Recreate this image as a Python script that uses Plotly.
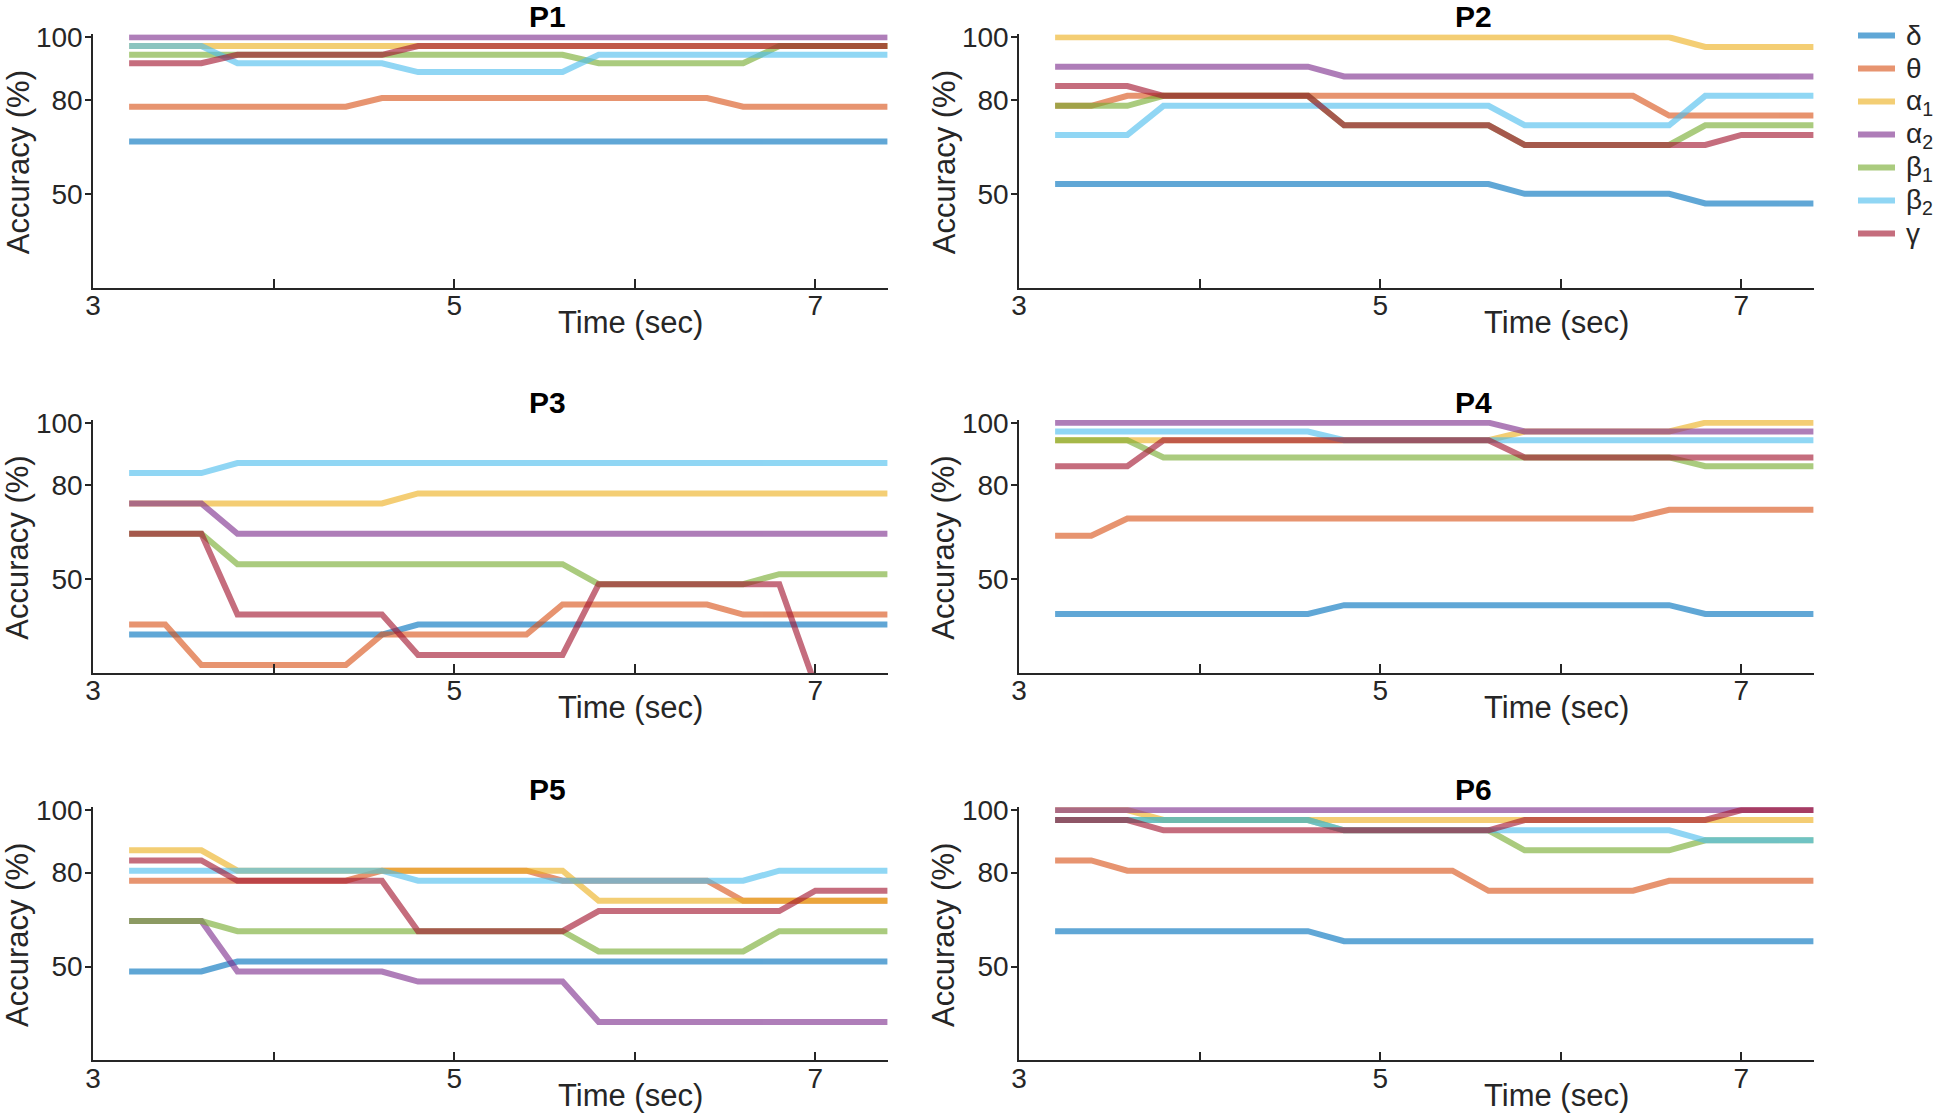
import plotly.graph_objects as go

W, H = 1946, 1114

time_sec = [3.2, 3.4, 3.6, 3.8, 4.0, 4.2, 4.4, 4.6, 4.8, 5.0, 5.2,
            5.4, 5.6, 5.8, 6.0, 6.2, 6.4, 6.6, 6.8, 7.0, 7.2, 7.4]

band_names = ["δ", "θ", "α<sub>1</sub>", "α<sub>2</sub>", "β<sub>1</sub>", "β<sub>2</sub>", "γ"]
band_colors = ["#0072BD", "#D95319", "#EDB120", "#7E2F8E", "#77AC30", "#4DBEEE", "#A2142F"]
panel_titles = ["P1", "P2", "P3", "P4", "P5", "P6"]
x_tick_vals = [3, 5, 7]
x_tick_text = ["3", "5", "7"]
y_tick_vals = [50, 80, 100]
y_tick_text = ["50", "80", "100"]

# ---- P1 ----
p1_delta = [66.7, 66.7, 66.7, 66.7, 66.7, 66.7, 66.7, 66.7, 66.7, 66.7, 66.7, 66.7, 66.7, 66.7, 66.7, 66.7, 66.7, 66.7, 66.7, 66.7, 66.7, 66.7]
p1_theta = [77.8, 77.8, 77.8, 77.8, 77.8, 77.8, 77.8, 80.6, 80.6, 80.6, 80.6, 80.6, 80.6, 80.6, 80.6, 80.6, 80.6, 77.8, 77.8, 77.8, 77.8, 77.8]
p1_alpha1 = [97.2, 97.2, 97.2, 97.2, 97.2, 97.2, 97.2, 97.2, 97.2, 97.2, 97.2, 97.2, 97.2, 97.2, 97.2, 97.2, 97.2, 97.2, 97.2, 97.2, 97.2, 97.2]
p1_alpha2 = [100, 100, 100, 100, 100, 100, 100, 100, 100, 100, 100, 100, 100, 100, 100, 100, 100, 100, 100, 100, 100, 100]
p1_beta1 = [94.4, 94.4, 94.4, 94.4, 94.4, 94.4, 94.4, 94.4, 94.4, 94.4, 94.4, 94.4, 94.4, 91.7, 91.7, 91.7, 91.7, 91.7, 97.2, 97.2, 97.2, 97.2]
p1_beta2 = [97.2, 97.2, 97.2, 91.7, 91.7, 91.7, 91.7, 91.7, 88.9, 88.9, 88.9, 88.9, 88.9, 94.4, 94.4, 94.4, 94.4, 94.4, 94.4, 94.4, 94.4, 94.4]
p1_gamma = [91.7, 91.7, 91.7, 94.4, 94.4, 94.4, 94.4, 94.4, 97.2, 97.2, 97.2, 97.2, 97.2, 97.2, 97.2, 97.2, 97.2, 97.2, 97.2, 97.2, 97.2, 97.2]

# ---- P2 ----
p2_delta = [53.1, 53.1, 53.1, 53.1, 53.1, 53.1, 53.1, 53.1, 53.1, 53.1, 53.1, 53.1, 53.1, 50.0, 50.0, 50.0, 50.0, 50.0, 46.9, 46.9, 46.9, 46.9]
p2_theta = [78.1, 78.1, 81.3, 81.3, 81.3, 81.3, 81.3, 81.3, 81.3, 81.3, 81.3, 81.3, 81.3, 81.3, 81.3, 81.3, 81.3, 75.0, 75.0, 75.0, 75.0, 75.0]
p2_alpha1 = [100, 100, 100, 100, 100, 100, 100, 100, 100, 100, 100, 100, 100, 100, 100, 100, 100, 100, 96.9, 96.9, 96.9, 96.9]
p2_alpha2 = [90.6, 90.6, 90.6, 90.6, 90.6, 90.6, 90.6, 90.6, 87.5, 87.5, 87.5, 87.5, 87.5, 87.5, 87.5, 87.5, 87.5, 87.5, 87.5, 87.5, 87.5, 87.5]
p2_beta1 = [78.1, 78.1, 78.1, 81.3, 81.3, 81.3, 81.3, 81.3, 71.9, 71.9, 71.9, 71.9, 71.9, 65.6, 65.6, 65.6, 65.6, 65.6, 71.9, 71.9, 71.9, 71.9]
p2_beta2 = [68.8, 68.8, 68.8, 78.1, 78.1, 78.1, 78.1, 78.1, 78.1, 78.1, 78.1, 78.1, 78.1, 71.9, 71.9, 71.9, 71.9, 71.9, 81.3, 81.3, 81.3, 81.3]
p2_gamma = [84.4, 84.4, 84.4, 81.3, 81.3, 81.3, 81.3, 81.3, 71.9, 71.9, 71.9, 71.9, 71.9, 65.6, 65.6, 65.6, 65.6, 65.6, 65.6, 68.8, 68.8, 68.8]

# ---- P3 ----
p3_delta = [32.3, 32.3, 32.3, 32.3, 32.3, 32.3, 32.3, 32.3, 35.5, 35.5, 35.5, 35.5, 35.5, 35.5, 35.5, 35.5, 35.5, 35.5, 35.5, 35.5, 35.5, 35.5]
p3_theta = [35.5, 35.5, 22.6, 22.6, 22.6, 22.6, 22.6, 32.3, 32.3, 32.3, 32.3, 32.3, 41.9, 41.9, 41.9, 41.9, 41.9, 38.7, 38.7, 38.7, 38.7, 38.7]
p3_alpha1 = [74.2, 74.2, 74.2, 74.2, 74.2, 74.2, 74.2, 74.2, 77.4, 77.4, 77.4, 77.4, 77.4, 77.4, 77.4, 77.4, 77.4, 77.4, 77.4, 77.4, 77.4, 77.4]
p3_alpha2 = [74.2, 74.2, 74.2, 64.5, 64.5, 64.5, 64.5, 64.5, 64.5, 64.5, 64.5, 64.5, 64.5, 64.5, 64.5, 64.5, 64.5, 64.5, 64.5, 64.5, 64.5, 64.5]
p3_beta1 = [64.5, 64.5, 64.5, 54.8, 54.8, 54.8, 54.8, 54.8, 54.8, 54.8, 54.8, 54.8, 54.8, 48.4, 48.4, 48.4, 48.4, 48.4, 51.6, 51.6, 51.6, 51.6]
p3_beta2 = [83.9, 83.9, 83.9, 87.1, 87.1, 87.1, 87.1, 87.1, 87.1, 87.1, 87.1, 87.1, 87.1, 87.1, 87.1, 87.1, 87.1, 87.1, 87.1, 87.1, 87.1, 87.1]
p3_gamma = [64.5, 64.5, 64.5, 38.7, 38.7, 38.7, 38.7, 38.7, 25.8, 25.8, 25.8, 25.8, 25.8, 48.4, 48.4, 48.4, 48.4, 48.4, 48.4, 16.1, 16.1, 16.1]

# ---- P4 ----
p4_delta = [38.9, 38.9, 38.9, 38.9, 38.9, 38.9, 38.9, 38.9, 41.7, 41.7, 41.7, 41.7, 41.7, 41.7, 41.7, 41.7, 41.7, 41.7, 38.9, 38.9, 38.9, 38.9]
p4_theta = [63.9, 63.9, 69.4, 69.4, 69.4, 69.4, 69.4, 69.4, 69.4, 69.4, 69.4, 69.4, 69.4, 69.4, 69.4, 69.4, 69.4, 72.2, 72.2, 72.2, 72.2, 72.2]
p4_alpha1 = [94.4, 94.4, 94.4, 94.4, 94.4, 94.4, 94.4, 94.4, 94.4, 94.4, 94.4, 94.4, 94.4, 97.2, 97.2, 97.2, 97.2, 97.2, 100, 100, 100, 100]
p4_alpha2 = [100, 100, 100, 100, 100, 100, 100, 100, 100, 100, 100, 100, 100, 97.2, 97.2, 97.2, 97.2, 97.2, 97.2, 97.2, 97.2, 97.2]
p4_beta1 = [94.4, 94.4, 94.4, 88.9, 88.9, 88.9, 88.9, 88.9, 88.9, 88.9, 88.9, 88.9, 88.9, 88.9, 88.9, 88.9, 88.9, 88.9, 86.1, 86.1, 86.1, 86.1]
p4_beta2 = [97.2, 97.2, 97.2, 97.2, 97.2, 97.2, 97.2, 97.2, 94.4, 94.4, 94.4, 94.4, 94.4, 94.4, 94.4, 94.4, 94.4, 94.4, 94.4, 94.4, 94.4, 94.4]
p4_gamma = [86.1, 86.1, 86.1, 94.4, 94.4, 94.4, 94.4, 94.4, 94.4, 94.4, 94.4, 94.4, 94.4, 88.9, 88.9, 88.9, 88.9, 88.9, 88.9, 88.9, 88.9, 88.9]

# ---- P5 ----
p5_delta = [48.4, 48.4, 48.4, 51.6, 51.6, 51.6, 51.6, 51.6, 51.6, 51.6, 51.6, 51.6, 51.6, 51.6, 51.6, 51.6, 51.6, 51.6, 51.6, 51.6, 51.6, 51.6]
p5_theta = [77.4, 77.4, 77.4, 77.4, 77.4, 77.4, 77.4, 80.6, 80.6, 80.6, 80.6, 80.6, 77.4, 77.4, 77.4, 77.4, 77.4, 71.0, 71.0, 71.0, 71.0, 71.0]
p5_alpha1 = [87.1, 87.1, 87.1, 80.6, 80.6, 80.6, 80.6, 80.6, 80.6, 80.6, 80.6, 80.6, 80.6, 71.0, 71.0, 71.0, 71.0, 71.0, 71.0, 71.0, 71.0, 71.0]
p5_alpha2 = [64.5, 64.5, 64.5, 48.4, 48.4, 48.4, 48.4, 48.4, 45.2, 45.2, 45.2, 45.2, 45.2, 32.3, 32.3, 32.3, 32.3, 32.3, 32.3, 32.3, 32.3, 32.3]
p5_beta1 = [64.5, 64.5, 64.5, 61.3, 61.3, 61.3, 61.3, 61.3, 61.3, 61.3, 61.3, 61.3, 61.3, 54.8, 54.8, 54.8, 54.8, 54.8, 61.3, 61.3, 61.3, 61.3]
p5_beta2 = [80.6, 80.6, 80.6, 80.6, 80.6, 80.6, 80.6, 80.6, 77.4, 77.4, 77.4, 77.4, 77.4, 77.4, 77.4, 77.4, 77.4, 77.4, 80.6, 80.6, 80.6, 80.6]
p5_gamma = [83.9, 83.9, 83.9, 77.4, 77.4, 77.4, 77.4, 77.4, 61.3, 61.3, 61.3, 61.3, 61.3, 67.7, 67.7, 67.7, 67.7, 67.7, 67.7, 74.2, 74.2, 74.2]

# ---- P6 ----
p6_delta = [61.3, 61.3, 61.3, 61.3, 61.3, 61.3, 61.3, 61.3, 58.1, 58.1, 58.1, 58.1, 58.1, 58.1, 58.1, 58.1, 58.1, 58.1, 58.1, 58.1, 58.1, 58.1]
p6_theta = [83.9, 83.9, 80.6, 80.6, 80.6, 80.6, 80.6, 80.6, 80.6, 80.6, 80.6, 80.6, 74.2, 74.2, 74.2, 74.2, 74.2, 77.4, 77.4, 77.4, 77.4, 77.4]
p6_alpha1 = [100, 100, 100, 96.8, 96.8, 96.8, 96.8, 96.8, 96.8, 96.8, 96.8, 96.8, 96.8, 96.8, 96.8, 96.8, 96.8, 96.8, 96.8, 96.8, 96.8, 96.8]
p6_alpha2 = [100, 100, 100, 100, 100, 100, 100, 100, 100, 100, 100, 100, 100, 100, 100, 100, 100, 100, 100, 100, 100, 100]
p6_beta1 = [96.8, 96.8, 96.8, 96.8, 96.8, 96.8, 96.8, 96.8, 93.5, 93.5, 93.5, 93.5, 93.5, 87.1, 87.1, 87.1, 87.1, 87.1, 90.3, 90.3, 90.3, 90.3]
p6_beta2 = [96.8, 96.8, 96.8, 96.8, 96.8, 96.8, 96.8, 96.8, 93.5, 93.5, 93.5, 93.5, 93.5, 93.5, 93.5, 93.5, 93.5, 93.5, 90.3, 90.3, 90.3, 90.3]
p6_gamma = [96.8, 96.8, 96.8, 93.5, 93.5, 93.5, 93.5, 93.5, 93.5, 93.5, 93.5, 93.5, 93.5, 96.8, 96.8, 96.8, 96.8, 96.8, 96.8, 100, 100, 100]

panels = [
    [p1_delta, p1_theta, p1_alpha1, p1_alpha2, p1_beta1, p1_beta2, p1_gamma],
    [p2_delta, p2_theta, p2_alpha1, p2_alpha2, p2_beta1, p2_beta2, p2_gamma],
    [p3_delta, p3_theta, p3_alpha1, p3_alpha2, p3_beta1, p3_beta2, p3_gamma],
    [p4_delta, p4_theta, p4_alpha1, p4_alpha2, p4_beta1, p4_beta2, p4_gamma],
    [p5_delta, p5_theta, p5_alpha1, p5_alpha2, p5_beta1, p5_beta2, p5_gamma],
    [p6_delta, p6_theta, p6_alpha1, p6_alpha2, p6_beta1, p6_beta2, p6_gamma],
]

# ---- layout geometry (pixels) ----
col_left = [93, 1019]            # pixel of x = 3
px_per_x = 180.6
row_y100 = [37.3, 422.7, 810.0]  # pixel of y = 100
px_per_y = 3.13
X_MIN, X_MAX = 3.0, 7.4
Y_MIN, Y_MAX = 20.0, 100.9

AX_COLOR = "#262626"
FONT = "Liberation Sans, Arial, Helvetica, sans-serif"
TICK_SIZE = 28
LABEL_SIZE = 31
TITLE_SIZE = 30
LEGEND_SIZE = 28
LINE_W = 6
ALPHA = 0.62

fig = go.Figure()
layout = dict(
    width=W, height=H,
    margin=dict(l=0, r=0, t=0, b=0, autoexpand=False),
    paper_bgcolor="white", plot_bgcolor="white",
    font=dict(family=FONT, color=AX_COLOR),
    showlegend=False,
)
annotations = []
shapes = []

for p in range(6):
    r, c = divmod(p, 2)
    i = p + 1
    xl = col_left[c]
    xr = xl + (X_MAX - X_MIN) * px_per_x
    yb = row_y100[r] + (100 - Y_MIN) * px_per_y
    yt = row_y100[r] - (Y_MAX - 100) * px_per_y
    xa = "xaxis" if i == 1 else f"xaxis{i}"
    ya = "yaxis" if i == 1 else f"yaxis{i}"
    xref = "x" if i == 1 else f"x{i}"
    yref = "y" if i == 1 else f"y{i}"
    layout[xa] = dict(
        domain=[xl / W, xr / W], anchor=yref, range=[X_MIN, X_MAX],
        showgrid=False, zeroline=False, showline=True, linecolor=AX_COLOR, linewidth=1.5,
        tickmode="array", tickvals=x_tick_vals, ticktext=x_tick_text,
        ticks="inside", ticklen=9, tickwidth=1.5, tickcolor=AX_COLOR,
        ticklabelstandoff=-8,
        minor=dict(tick0=3, dtick=1, ticks="inside", ticklen=9, tickwidth=1.5,
                   tickcolor=AX_COLOR, showgrid=False),
        tickfont=dict(size=TICK_SIZE, color=AX_COLOR, family=FONT),
        fixedrange=True,
    )
    layout[ya] = dict(
        domain=[1 - yb / H, 1 - yt / H], anchor=xref, range=[Y_MIN, Y_MAX],
        showgrid=False, zeroline=False, showline=True, linecolor=AX_COLOR, linewidth=1.5,
        tickmode="array", tickvals=y_tick_vals, ticktext=y_tick_text,
        ticks="outside", ticklen=6, tickwidth=1.5, tickcolor=AX_COLOR,
        ticklabelstandoff=-3,
        tickfont=dict(size=TICK_SIZE, color=AX_COLOR, family=FONT),
        fixedrange=True,
    )
    for k, series in enumerate(panels[p]):
        fig.add_trace(go.Scatter(
            x=time_sec, y=series, mode="lines",
            name=band_names[k], showlegend=False,
            line=dict(color=band_colors[k], width=LINE_W),
            opacity=ALPHA, xaxis=xref, yaxis=yref,
            hoverinfo="skip",
        ))
    annotations.append(dict(
        text=f"<b>{panel_titles[p]}</b>", x=(xl + 454) / W, y=1 - (row_y100[r] - 20.5) / H,
        xref="paper", yref="paper", xanchor="center", yanchor="middle", showarrow=False,
        font=dict(size=TITLE_SIZE, color="black", family=FONT),
    ))
    annotations.append(dict(
        text="Time (sec)", x=(xl + 537) / W, y=1 - (row_y100[r] + 285) / H,
        xref="paper", yref="paper", xanchor="center", yanchor="middle", showarrow=False,
        font=dict(size=LABEL_SIZE, color=AX_COLOR, family=FONT),
    ))
    annotations.append(dict(
        text="Accuracy (%)", x=(xl - 75) / W, y=1 - (row_y100[r] + 125) / H,
        xref="paper", yref="paper", xanchor="center", yanchor="middle", showarrow=False,
        textangle=-90,
        font=dict(size=LABEL_SIZE, color=AX_COLOR, family=FONT),
    ))

# ---- legend (drawn as line samples + labels) ----
leg_x0, leg_x1, leg_tx = 1858, 1895, 1904
leg_y0, leg_dy = 35.5, 33.0
for k in range(len(band_names)):
    ly = leg_y0 + k * leg_dy
    shapes.append(dict(
        type="line", xref="paper", yref="paper",
        x0=leg_x0 / W, x1=leg_x1 / W, y0=1 - ly / H, y1=1 - ly / H,
        line=dict(color=band_colors[k], width=LINE_W), opacity=ALPHA,
    ))
    has_sub = "<sub>" in band_names[k]
    annotations.append(dict(
        text=band_names[k], x=leg_tx / W, y=1 - ly / H,
        xref="paper", yref="paper", xanchor="left", yanchor="middle", showarrow=False,
        yshift=-1 if has_sub else 0,
        font=dict(size=LEGEND_SIZE, color=AX_COLOR, family=FONT),
    ))

layout["annotations"] = annotations
layout["shapes"] = shapes
fig.update_layout(**layout)
fig.write_html("out.html", config={"displayModeBar": False},
               post_script="document.body.style.margin='0px';")
